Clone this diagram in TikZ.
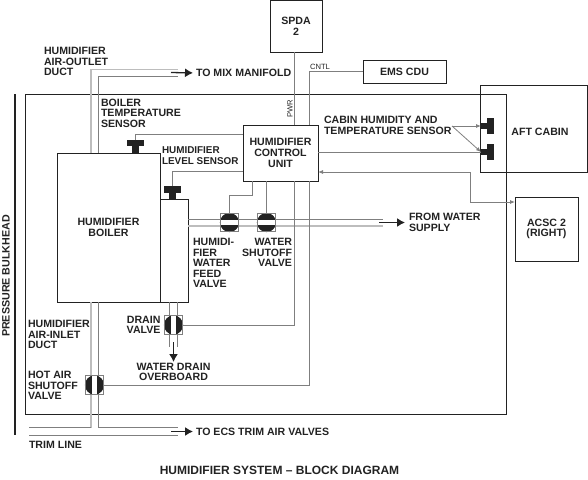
\documentclass[tikz,border=0pt]{standalone}
\usepackage{fontspec}
\setmainfont{Liberation Sans}
\usepackage{xcolor}
\usetikzlibrary{arrows.meta}
\definecolor{ink}{HTML}{222222}
\definecolor{wiregray}{HTML}{7F7F7F}
\definecolor{ductgray}{HTML}{BDBDBD}
\newcommand{\valve}[4]{%
\begin{scope}[shift={(#2,#3)},rotate=#4]
\fill[ink] (0,0) circle (9.6);
\fill[white] (-10,-2.9) rectangle (10,2.9);
\end{scope}
\node[valvebox] (#1) at (#2,#3) {};
}
\begin{document}
\begin{tikzpicture}[x=1pt,y=-1pt,
every node/.style={font=\fontsize{10.6}{10.6}\selectfont\bfseries,text=ink,inner sep=0pt,outer sep=0pt},
box/.style={draw=ink,line width=1pt,align=center},
lbl/.style={align=left,anchor=west},
lblr/.style={align=right,anchor=east},
small/.style={font=\fontsize{7.6}{8}\selectfont},
wire/.style={draw=wiregray,line width=0.8pt},
duct/.style={draw=ductgray,line width=1.5pt},
valvebox/.style={draw=wiregray,line width=0.7pt,minimum size=18.5pt},
blk/.style={fill=ink},
flow/.style={draw=ink,line width=1.3pt,-{Latex[length=8pt,width=9pt]}},
tip/.style={-{Latex[length=5pt,width=4pt]}}]
\useasboundingbox (0,0) rectangle (588,479);
% boxes
\node[box,minimum width=481pt,minimum height=320pt] (zone) at (265.5,254) {};
\node[box,minimum width=52pt,minimum height=52pt] (spda) at (296,26) {SPDA\\2};
\node[box,minimum width=83pt,minimum height=23pt] (ems) at (404.5,71.5) {EMS CDU};
\node[box,minimum width=103pt,minimum height=149pt] (boiler) at (108.5,227.5) {HUMIDIFIER\\BOILER};
\node[box,minimum width=28pt,minimum height=103pt] (tank) at (174,250.5) {};
\node[box,minimum width=75pt,minimum height=56pt] (unit) at (280.5,153) {HUMIDIFIER\\CONTROL\\UNIT};
\node[box,minimum width=107pt,minimum height=87pt] (cabin) at (533.5,128.5) {};
\node[box,minimum width=63pt,minimum height=64pt] (acsc) at (546.5,229) {ACSC 2\\(RIGHT)};
\node[blk,minimum width=2.6pt,minimum height=341pt] (bulkhead) at (15,264.5) {};
% sensors
\node[blk,minimum width=17pt,minimum height=6pt] (tempbar) at (135.5,143) {};
\node[blk,minimum width=7pt,minimum height=7pt] (tempstem) at (135,149.5) {};
\node[blk,minimum width=17pt,minimum height=6.5pt] (levelbar) at (172.5,189.5) {};
\node[blk,minimum width=7pt,minimum height=6.5pt] (levelstem) at (172.5,195.5) {};
\node[blk,minimum width=7pt,minimum height=16pt] (humbar) at (490.5,126) {};
\node[blk,minimum width=6pt,minimum height=6pt] (humstem) at (484,126) {};
\node[blk,minimum width=7pt,minimum height=16pt] (tmpbar) at (490.5,152) {};
\node[blk,minimum width=6pt,minimum height=6pt] (tmpstem) at (484,152) {};
% turning points
\coordinate (outa) at (91,153);
\coordinate (outb) at (98.3,153);
\coordinate (outaend) at (178,69.5);
\coordinate (outbend) at (178,76.5);
\coordinate (ina) at (91,302);
\coordinate (inb) at (98.3,302);
\coordinate (trima) at (29,427.5);
\coordinate (trimb) at (178,427.5);
\coordinate (trimc) at (29,435);
\coordinate (trimd) at (178,435);
\coordinate (feeda) at (188,219);
\coordinate (feedb) at (188,226);
\coordinate (feedaend) at (383,219);
\coordinate (feedbend) at (383,226);
\coordinate (draina) at (169.7,302);
\coordinate (drainb) at (177.3,302);
\coordinate (drainaend) at (169.7,347);
\coordinate (drainbend) at (177.3,347);
\coordinate (drainend) at (173.5,362);
\coordinate (pwrtop) at (294.8,52);
\coordinate (pwrin) at (294.8,125);
\coordinate (pwrout) at (294.8,181);
\coordinate (cntlin) at (309,125);
\coordinate (cntlout) at (309,181);
\coordinate (feedout) at (252.5,181);
\coordinate (shutout) at (266.5,181);
\coordinate (acscturn) at (470,172);
\coordinate (acscin) at (515,202);
\coordinate (sensefrom) at (452,126);
% ducts and water lines
\draw[duct] (outa) |- (outaend);
\draw[wire] (outb) |- (outbend);
\draw[duct] (ina) -- (ina |- trima);
\draw[wire] (ina |- trima) -- (trima);
\draw[wire] (inb) |- (trimb);
\draw[wire] (trimc) -- (trimd);
\draw[wire] (feeda) -- (feedaend);
\draw[duct] (feedb) -- (feedbend);
\draw[wire] (draina) -- (drainaend);
\draw[wire] (drainb) -- (drainbend);
% valves
\valve{feedvalve}{229.5}{222.5}{0}
\valve{shutvalve}{266.5}{222.5}{0}
\valve{drainvalve}{173.5}{325}{90}
\valve{hotvalve}{94.5}{385}{90}
% signal lines
\draw[wire] (tempbar.north) |- (unit.west |- 0,134.5);
\draw[wire] (levelbar.north) |- (unit.west |- 0,171.5);
\draw[wire] (feedout) -- ++(0,14) -| (feedvalve.north);
\draw[wire] (shutout) -- (shutvalve.north);
\draw[wire] (pwrtop) -- (pwrin);
\draw[wire] (pwrout) |- (drainvalve.east);
\draw[wire] (cntlout) |- (hotvalve.east);
\draw[wire] (cntlin) |- (ems.west);
\draw[wire] (unit.east |- tmpstem) -- (tmpstem.west);
\draw[wire,tip] (sensefrom) -- (humstem.west);
\draw[wire,tip] (sensefrom) -- (tmpstem.west);
\draw[wire,{Latex[length=5pt,width=4pt]}-{Latex[length=5pt,width=4pt]}] (unit.east |- acscturn) -- (acscturn) |- (acscin);
% flow arrows
\node[lbl] (mixlbl) at (196,73) {TO MIX MANIFOLD};
\node[lbl] (ecslbl) at (196,431.5) {TO ECS TRIM AIR VALVES};
\node[lbl] (supplylbl) at (409,222.5) {FROM WATER\\SUPPLY};
\node[align=center] (overlbl) at (173.5,372) {WATER DRAIN\\OVERBOARD};
\draw[flow,shorten >=3pt] (171,72.5) -- (mixlbl.west);
\draw[flow,shorten >=3pt] (171,431.5) -- (ecslbl.west);
\draw[flow,shorten >=4pt] (379,222.5) -- (supplylbl.west);
\draw[flow] (173.5,342) -- (drainend);
% labels
\node (cabinlbl) at (540,132) {AFT CABIN};
\node[lbl] (outlbl) at (44,61.5) {HUMIDIFIER\\AIR-OUTLET\\DUCT};
\node[lbl] (templbl) at (101,113) {BOILER\\TEMPERATURE\\SENSOR};
\node[lbl,font=\fontsize{9.9}{10.6}\selectfont\bfseries] (levellbl) at (162,155.5) {HUMIDIFIER\\LEVEL SENSOR};
\node[lbl] (feedlbl) at (193,263) {HUMIDI-\\FIER\\WATER\\FEED\\VALVE};
\node[lblr] (shutlbl) at (292,252.5) {WATER\\SHUTOFF\\VALVE};
\node[lbl] (inlbl) at (28,334.5) {HUMIDIFIER\\AIR-INLET\\DUCT};
\node[lbl] (hotlbl) at (28,385.5) {HOT AIR\\SHUTOFF\\VALVE};
\node[lblr] (drainlbl) at (160.5,325) {DRAIN\\VALVE};
\node[lbl] (trimlbl) at (29,445) {TRIM LINE};
\node[lbl] (senselbl) at (324,125.5) {CABIN HUMIDITY AND\\TEMPERATURE SENSOR};
\node[rotate=90,font=\fontsize{10.7}{11}\selectfont\bfseries] (bulklbl) at (6,276) {PRESSURE BULKHEAD};
\node[small] (cntllbl) at (320,67) {CNTL};
\node[small,rotate=90] (pwrlbl) at (290,109) {PWR};
\node[font=\fontsize{12}{12}\selectfont\bfseries] (titlelbl) at (279.5,470) {HUMIDIFIER SYSTEM -- BLOCK DIAGRAM};
\end{tikzpicture}
\end{document}
